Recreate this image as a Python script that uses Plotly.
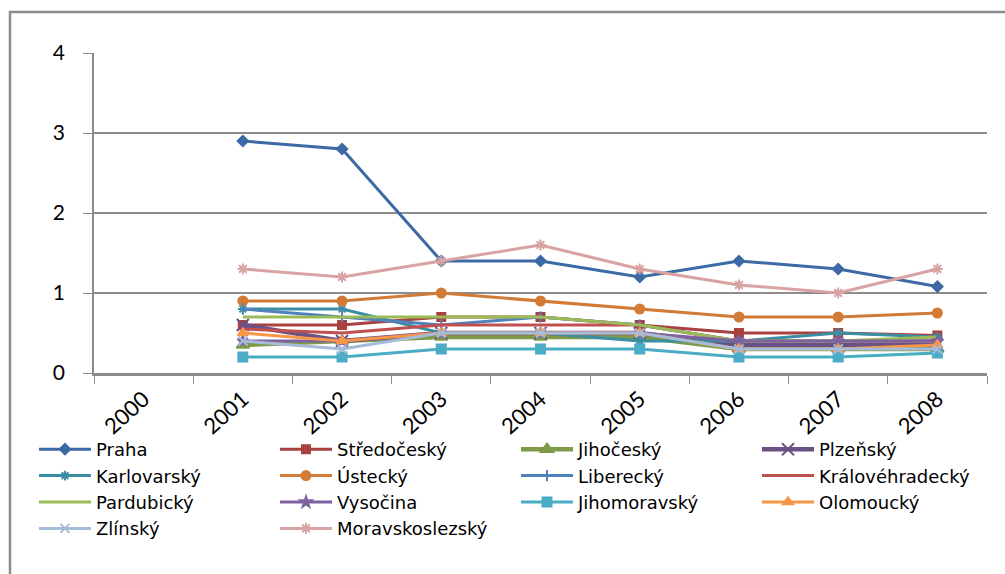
import plotly.graph_objects as go

years = ["2000", "2001", "2002", "2003", "2004", "2005", "2006", "2007", "2008"]

praha = [None, 2.9, 2.8, 1.4, 1.4, 1.2, 1.4, 1.3, 1.08]
stredocesky = [None, 0.6, 0.6, 0.7, 0.7, 0.6, 0.5, 0.5, 0.47]
jihocesky = [None, 0.35, 0.4, 0.45, 0.45, 0.45, 0.3, 0.3, 0.3]
plzensky = [None, 0.6, 0.4, 0.5, 0.5, 0.5, 0.35, 0.35, 0.35]
karlovarsky = [None, 0.8, 0.8, 0.5, 0.5, 0.4, 0.4, 0.5, 0.45]
ustecky = [None, 0.9, 0.9, 1.0, 0.9, 0.8, 0.7, 0.7, 0.75]
liberecky = [None, 0.8, 0.7, 0.6, 0.7, 0.6, 0.4, 0.4, 0.4]
kralovehradecky = [None, 0.55, 0.5, 0.6, 0.6, 0.6, 0.4, 0.4, 0.4]
pardubicky = [None, 0.7, 0.7, 0.7, 0.7, 0.6, 0.4, 0.4, 0.45]
vysocina = [None, 0.4, 0.4, 0.5, 0.5, 0.5, 0.4, 0.4, 0.4]
jihomoravsky = [None, 0.2, 0.2, 0.3, 0.3, 0.3, 0.2, 0.2, 0.25]
olomoucky = [None, 0.5, 0.4, 0.5, 0.5, 0.5, 0.3, 0.3, 0.35]
zlinsky = [None, 0.4, 0.3, 0.5, 0.5, 0.5, 0.3, 0.3, 0.3]
moravskoslezsky = [None, 1.3, 1.2, 1.4, 1.6, 1.3, 1.1, 1.0, 1.3]

series = [
    ("Praha", praha, "#3D6AA5", "diamond", 3, 8),
    ("Středočeský", stredocesky, "#A8413F", "square", 3, 8),
    ("Jihočeský", jihocesky, "#7F9A48", "triangle-up", 4.5, 11),
    ("Plzeňský", plzensky, "#6A5186", "x-thin", 4.5, 12),
    ("Karlovarský", karlovarsky, "#3B8EA3", "asterisk-open", 3, 8),
    ("Ústecký", ustecky, "#D17B36", "circle", 3, 9),
    ("Liberecký", liberecky, "#4F81BD", "line-ns-open", 3, 8),
    ("Královéhradecký", kralovehradecky, "#C0504D", None, 3, 8),
    ("Pardubický", pardubicky, "#9BBB59", None, 3, 8),
    ("Vysočina", vysocina, "#7E62A0", "star", 3, 8),
    ("Jihomoravský", jihomoravsky, "#4BACC6", "square", 3, 9),
    ("Olomoucký", olomoucky, "#F79646", "triangle-up", 3, 9),
    ("Zlínský", zlinsky, "#A6BBDA", "x-thin", 3, 9),
    ("Moravskoslezský", moravskoslezsky, "#D8A3A2", "asterisk-open", 3, 9),
]

fig = go.Figure()
for name, vals, color, sym, lw, ms in series:
    if sym is None:
        fig.add_trace(go.Scatter(x=years, y=vals, name=name, mode="lines",
                                 line=dict(color=color, width=lw)))
    else:
        fig.add_trace(go.Scatter(x=years, y=vals, name=name, mode="lines+markers",
                                 line=dict(color=color, width=lw),
                                 marker=dict(symbol=sym, size=ms, color=color,
                                             line=dict(color=color, width=2))))

W, H = 1005, 574
ml, mr, mt, mb = 94, 18, 53, 201
pw = W - ml - mr
ph = H - mt - mb

def px2x(px):
    return (px - ml) / pw

def py2y(py):
    return (H - mb - py) / ph

fig.add_shape(type="rect", xref="paper", yref="paper",
              x0=px2x(10), x1=px2x(1020), y0=py2y(590), y1=py2y(12),
              line=dict(color="#8C8C8C", width=2.5), fillcolor="rgba(0,0,0,0)", layer="below")

fig.update_layout(
    width=W, height=H,
    margin=dict(l=ml, r=mr, t=mt, b=mb, autoexpand=False),
    paper_bgcolor="white", plot_bgcolor="white",
    font=dict(family="Lato, Noto Sans, sans-serif", size=18, color="black"),
    showlegend=True,
    legend=dict(orientation="h", x=px2x(34), y=py2y(431), xanchor="left", yanchor="top",
                entrywidth=174, entrywidthmode="pixels", traceorder="normal",
                font=dict(family="DejaVu Sans, sans-serif", size=18, color="black"),
                itemwidth=52, tracegroupgap=0, bgcolor="rgba(0,0,0,0)"),
    xaxis=dict(type="category", categoryorder="array", categoryarray=years,
               range=[-0.5, 8.5], showgrid=False, showline=True, linecolor="#8C8C8C",
               linewidth=2.5, ticks="outside", tickson="boundaries", ticklen=8,
               tickcolor="#8C8C8C", tickangle=-42, tickfont=dict(size=22),
               ticklabelstandoff=2),
    yaxis=dict(range=[0, 4], dtick=1, showgrid=True, gridcolor="#8C8C8C", gridwidth=1.5,
               showline=True, linecolor="#8C8C8C", linewidth=1.5, ticks="outside",
               ticklen=9, tickcolor="#8C8C8C", tickfont=dict(size=21), zeroline=False,
               ticklabelstandoff=14),
)

fig.write_html("out.html", config={"displayModeBar": False},
               post_script="document.body.style.margin='0';")
